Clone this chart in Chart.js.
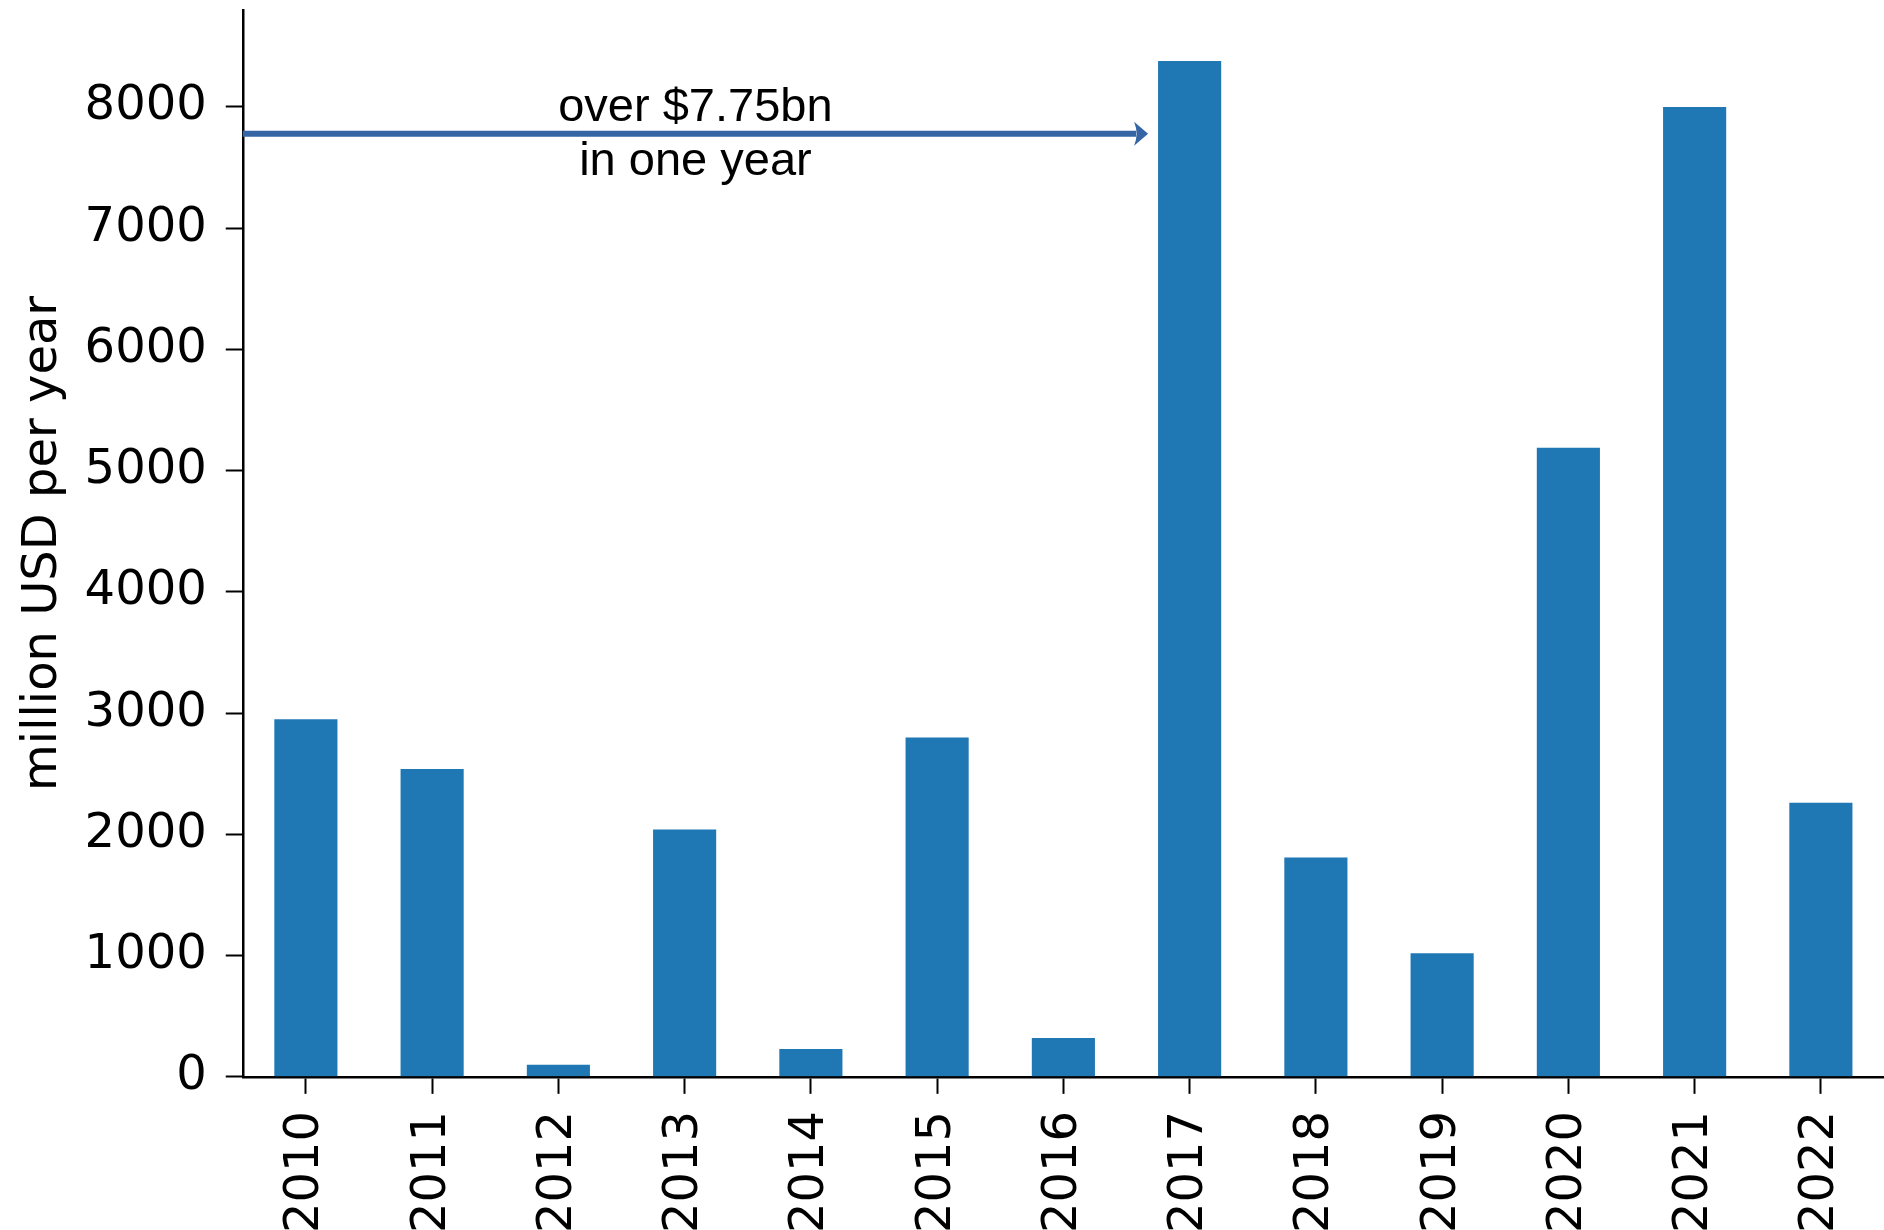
<!DOCTYPE html>
<html>
<head>
<meta charset="utf-8">
<script src="https://cdn.jsdelivr.net/npm/chart.js@4.4.1/dist/chart.umd.min.js"></script>
<style>
  html, body { margin: 0; padding: 0; background: #fff; overflow: hidden; }
  .wrap { position: relative; width: 1884px; height: 1250px; }
</style>
</head>
<body>
<div class="wrap"><canvas id="c"></canvas></div>
<script>
const years = ['2010','2011','2012','2013','2014','2015','2016','2017','2018','2019','2020','2021','2022'];
const investment = [2950, 2540, 100, 2040, 230, 2800, 320, 8380, 1810, 1020, 5190, 8000, 2260];
const yTicks = [0, 1000, 2000, 3000, 4000, 5000, 6000, 7000, 8000];
const noteValue = 7780;
const noteLines = ['over $7.75bn', 'in one year'];

const BLUE = '#1f77b4';
const ARROW = '#3465a5';

Chart.defaults.font.family = "'DejaVu Sans', sans-serif";
Chart.defaults.color = '#000';

// arrow + two-line label pointing at the 2017 bar
const arrowNote = {
  id: 'arrowNote',
  afterDatasetsDraw(chart) {
    const { ctx, chartArea, scales: { y } } = chart;
    const bar = chart.getDatasetMeta(0).data[7];
    const yy = y.getPixelForValue(noteValue);
    const x0 = chartArea.left;
    const tip = bar.x - bar.width / 2 - 10;
    ctx.save();
    ctx.strokeStyle = ARROW;
    ctx.fillStyle = ARROW;
    ctx.lineWidth = 6;
    ctx.beginPath();
    ctx.moveTo(x0, yy);
    ctx.lineTo(tip - 12, yy);
    ctx.stroke();
    ctx.beginPath();
    ctx.moveTo(tip, yy);
    ctx.lineTo(tip - 14, yy - 12);
    ctx.quadraticCurveTo(tip - 9, yy, tip - 14, yy + 12);
    ctx.closePath();
    ctx.fill();

    ctx.fillStyle = '#000';
    ctx.font = "47px 'Liberation Sans', Arial, sans-serif";
    ctx.textAlign = 'center';
    ctx.textBaseline = 'middle';
    const cx = (x0 + tip) / 2;
    ctx.fillText(noteLines[0], cx, yy - 26);
    ctx.fillText(noteLines[1], cx, yy + 28);
    ctx.restore();
  }
};

const tickGrid = { display: true, drawOnChartArea: false, drawTicks: true, tickLength: 17, tickWidth: 2, tickColor: '#000' };

new Chart(document.getElementById('c'), {
  type: 'bar',
  data: {
    labels: years,
    datasets: [{ data: investment, backgroundColor: BLUE, barPercentage: 0.5, categoryPercentage: 1 }]
  },
  options: {
    responsive: true, maintainAspectRatio: false, animation: false,
    layout: { padding: { top: 10, right: 0, left: 0, bottom: 0 } },
    plugins: { legend: { display: false }, tooltip: { enabled: false } },
    scales: {
      x: {
        offset: true,
        afterFit: s => { s.paddingLeft = 0; s.paddingRight = 0; },
        grid: { ...tickGrid, offset: false },
        border: { color: '#000', width: 2.5 },
        ticks: { font: { size: 48 }, minRotation: 90, maxRotation: 90, padding: 17, autoSkip: false }
      },
      y: {
        min: 0, max: 8800,
        afterBuildTicks: s => { s.ticks = yTicks.map(v => ({ value: v })); },
        afterFit: s => { s.paddingTop = 0; s.paddingBottom = 0; s.width -= 7; },
        grid: tickGrid,
        border: { color: '#000', width: 2.5 },
        ticks: { font: { size: 48 }, padding: 19, callback: v => String(v) },
        title: { display: true, text: 'million USD per year', font: { size: 48 }, padding: { top: 15, bottom: 0 } }
      }
    }
  },
  plugins: [arrowNote]
});
</script>
</body>
</html>
